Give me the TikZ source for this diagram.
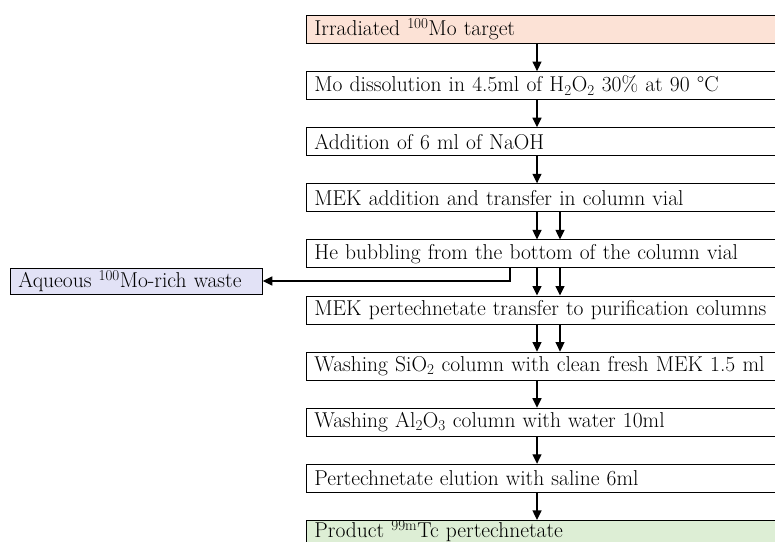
\documentclass[tikz,border=0pt]{standalone}
\usepackage{xcolor}
\usepackage{tikz}
\usetikzlibrary{arrows.meta,positioning,calc}
\definecolor{inicio}{RGB}{252,226,214}
\definecolor{residuo}{RGB}{226,226,246}
\definecolor{producto}{RGB}{221,238,213}
\tikzset{
  paso/.style={draw=black,line width=0.8pt,anchor=north west,minimum height=28,
    text width=466,inner xsep=8,inner ysep=0,align=left,
    font=\fontsize{21.5}{23}\selectfont},
  flecha/.style={line width=1.2pt,-{Triangle[length=9.5pt,width=9pt]}}
}
\begin{document}
\begin{tikzpicture}[x=1pt,y=-1pt]
    \useasboundingbox (0,0) rectangle (775,541);
    % Ejes de las flechas.
    \coordinate (eje) at (537,0);
    \coordinate (ejeb) at (560,0);
    \coordinate (codo) at (510,0);

    % Pasos del proceso.
    \node[paso,fill=inicio] (p1) at (306,15) {Irradiated \textsuperscript{100}Mo target};
    \node[paso] (p2) at (306,71.1) {Mo dissolution in 4.5ml of H\textsubscript{2}O\textsubscript{2} 30\% at 90 \textdegree C};
    \node[paso] (p3) at (306,127.2) {Addition of 6 ml of NaOH};
    \node[paso] (p4) at (306,183.3) {MEK addition and transfer in column vial};
    \node[paso] (p5) at (306,239.4) {He bubbling from the bottom of the column vial};
    \node[paso] (p6) at (306,295.5) {MEK pertechnetate transfer to purification columns};
    \node[paso] (p7) at (306,351.6) {Washing SiO\textsubscript{2} column with clean fresh MEK 1.5 ml};
    \node[paso] (p8) at (306,407.7) {Washing Al\textsubscript{2}O\textsubscript{3} column with water 10ml};
    \node[paso] (p9) at (306,463.8) {Pertechnetate elution with saline 6ml};
    \node[paso,fill=producto,minimum height=21] (p10) at (306,519.9) {Product \textsuperscript{99m}Tc pertechnetate};

    % Residuo acuoso.
    \node[paso,fill=residuo,text width=236,minimum height=26,inner xsep=8,anchor=west] (desecho) at (10,281) {Aqueous \textsuperscript{100}Mo-rich waste};

    % Flechas simples.
    \foreach \a/\b in {p1/p2,p2/p3,p3/p4,p7/p8,p8/p9,p9/p10}{
      \draw[flecha] (\a.south -| eje) -- (\b.north -| eje);
    }
    % Flechas dobles.
    \foreach \a/\b in {p4/p5,p5/p6,p6/p7}{
      \draw[flecha] (\a.south -| eje) -- (\b.north -| eje);
      \draw[flecha] (\a.south -| ejeb) -- (\b.north -| ejeb);
    }
    % Salida hacia el residuo.
    \draw[flecha] (p5.south -| codo) |- (desecho.east);
  \end{tikzpicture}
\end{document}
